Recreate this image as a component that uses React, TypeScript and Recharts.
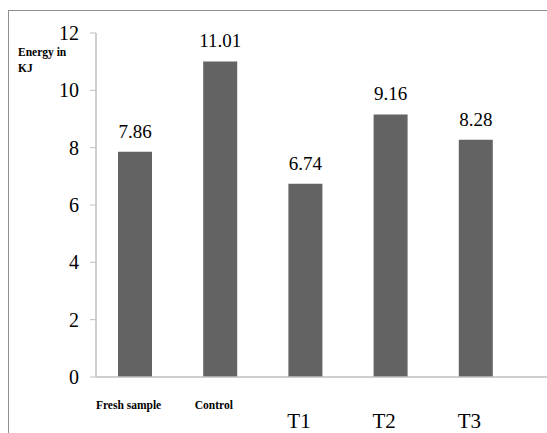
import React from 'react';
import { BarChart, Bar, XAxis, YAxis, LabelList } from 'recharts';

const categories = ['Fresh sample', 'Control', 'T1', 'T2', 'T3'];
const energy = [7.86, 11.01, 6.74, 9.16, 8.28];
const yTicks = [0, 2, 4, 6, 8, 10, 12];

const data = categories.map((name, i) => ({ name, energy: energy[i] }));

const SERIF = 'Liberation Serif, DejaVu Serif, serif';

// the first two category labels are small and bold, the T's are large
const CategoryTick = ({ x, y, payload }: any) => {
  const small = payload.value.length > 2;
  return (
    <text
      x={x - 6}
      y={small ? y + 24 : y + 43}
      textAnchor="middle"
      style={{ fontFamily: SERIF }}
      fontSize={small ? 11.5 : 21}
      fontWeight={small ? 'bold' : 'normal'}
      fill="#000"
    >
      {payload.value}
    </text>
  );
};

export default function App() {
  return (
    <div
      style={{
        position: 'fixed',
        left: 0,
        top: 0,
        width: 547,
        height: 433,
        overflow: 'hidden',
        background: '#fff',
        fontFamily: SERIF,
      }}
    >
      <div
        style={{
          position: 'absolute',
          left: 8,
          top: 10,
          width: 600,
          height: 500,
          border: '1.5px solid #8f8f8f',
        }}
      />
      <div
        style={{
          position: 'absolute',
          left: 18,
          top: 44,
          fontFamily: SERIF,
          fontWeight: 'bold',
          fontSize: 11.5,
          lineHeight: '16px',
          color: '#000',
        }}
      >
        Energy in
        <br />
        KJ
      </div>
      <div style={{ position: 'absolute', left: 0, top: 0, fontFamily: SERIF }}>
        <BarChart
          width={560}
          height={433}
          data={data}
          margin={{ top: 33, right: 0, bottom: 0, left: 10 }}
          style={{ fontFamily: SERIF }}
        >
          <XAxis
            dataKey="name"
            height={56}
            tickLine={false}
            axisLine={{ stroke: '#bfbfbf', strokeWidth: 1.5 }}
            tick={<CategoryTick />}
            interval={0}
            padding={{ left: -4, right: 42 }}
          />
          <YAxis
            width={86}
            domain={[0, 12]}
            ticks={yTicks}
            tickSize={6}
            tickMargin={11}
            axisLine={{ stroke: '#bfbfbf', strokeWidth: 1.5 }}
            tickLine={{ stroke: '#bfbfbf' }}
            tick={{ fontFamily: SERIF, fontSize: 20, fill: '#000' }}
          />
          <Bar dataKey="energy" fill="#636363" barSize={34} isAnimationActive={false}>
            <LabelList
              dataKey="energy"
              position="top"
              offset={14}
              style={{ fontFamily: SERIF }}
              fontSize={19}
              fill="#000"
              formatter={(v: any) => Number(v).toFixed(2)}
            />
          </Bar>
        </BarChart>
      </div>
    </div>
  );
}
